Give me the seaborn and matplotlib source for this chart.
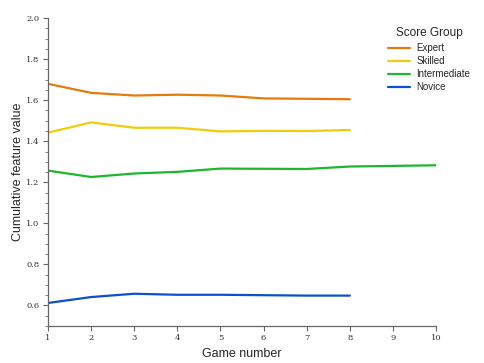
import numpy as np
import pandas as pd
import matplotlib
matplotlib.use("Agg")
import matplotlib.pyplot as plt
import seaborn as sns
from matplotlib.ticker import MultipleLocator

sns.set_style("ticks")

games = [1, 2, 3, 4, 5, 6, 7, 8, 9, 10]
expert = [1.680, 1.636, 1.623, 1.627, 1.623, 1.609, 1.607, 1.605]
skilled = [1.442, 1.492, 1.466, 1.466, 1.448, 1.451, 1.450, 1.455]
intermediate = [1.257, 1.226, 1.243, 1.251, 1.267, 1.266, 1.265, 1.277, 1.280, 1.283]
novice = [0.612, 0.641, 0.657, 0.652, 0.652, 0.650, 0.648, 0.648]

groups = ["Expert", "Skilled", "Intermediate", "Novice"]
palette = {"Expert": "#e67a0e", "Skilled": "#f0cc0a", "Intermediate": "#1cb72e", "Novice": "#0b51cf"}

rows = []
for name, vals in zip(groups, [expert, skilled, intermediate, novice]):
    for g, v in zip(games, vals):
        rows.append({"game": g, "value": v, "group": name})
df = pd.DataFrame(rows)

fig = plt.figure(figsize=(4.85, 3.63), dpi=100)
ax = fig.add_axes([0.099, 0.102, 0.800, 0.848])

sns.lineplot(data=df, x="game", y="value", hue="group", hue_order=groups,
             palette=palette, linewidth=1.6, ax=ax)

ax.set_xlim(1, 10)
ax.set_ylim(0.5, 2.0)
ax.set_xticks(games)
ax.yaxis.set_minor_locator(MultipleLocator(0.05))
ax.set_yticks(np.arange(0.6, 2.01, 0.2))
ax.set_yticklabels([f"{t:.1f}" for t in np.arange(0.6, 2.01, 0.2)])
for s in ["top", "right"]:
    ax.spines[s].set_visible(False)
for s in ["left", "bottom"]:
    ax.spines[s].set_color("#666666")
    ax.spines[s].set_linewidth(0.9)
ax.tick_params(axis="both", which="major", length=3.5, width=0.8, color="#666666",
               labelsize=6, labelcolor="#333333", pad=2.5)
ax.tick_params(axis="y", which="minor", length=2.2, width=0.6, color="#666666")
for lab in ax.get_xticklabels() + ax.get_yticklabels():
    lab.set_fontfamily("DejaVu Serif")

ax.set_xlabel("Game number", fontfamily="Liberation Sans", fontsize=9)
ax.set_ylabel("Cumulative feature value", fontfamily="Liberation Sans", fontsize=9)
ax.xaxis.set_label_coords(0.5, -0.07)
ax.xaxis.label.set_va("top")
ax.yaxis.set_label_coords(-0.077, 0.5)
ax.yaxis.label.set_va("center")

leg = ax.legend(title="Score Group", loc="upper left", bbox_to_anchor=(0.80, 0.925),
                bbox_transform=fig.transFigure, borderaxespad=0, borderpad=0,
                frameon=False, handlelength=2.3, labelspacing=0.3, handletextpad=0.6,
                prop={"family": "Liberation Sans", "size": 7})
leg.get_title().set_fontfamily("Liberation Sans")
leg.get_title().set_fontsize(8.5)
leg._legend_box.sep = 3
for line in leg.get_lines():
    line.set_linewidth(1.6)

fig.savefig("out.png", dpi=100)
